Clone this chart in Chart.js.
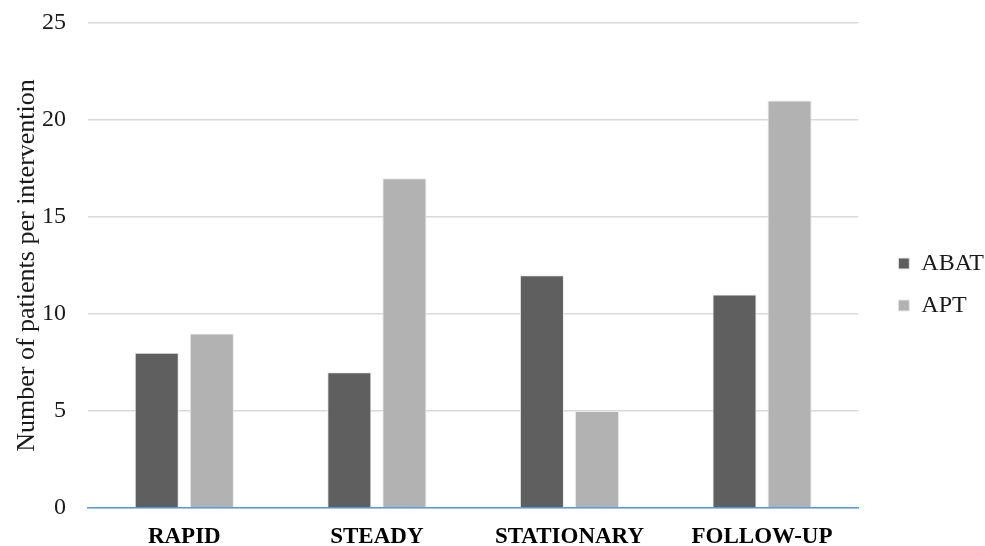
<!DOCTYPE html>
<html>
<head>
<meta charset="utf-8">
<script src="https://cdn.jsdelivr.net/npm/chart.js@4.4.0/dist/chart.umd.min.js"></script>
<style>
    html, body { margin: 0; padding: 0; background: #ffffff; }
    #wrap { width: 985px; height: 546px; position: relative; }
</style>
</head>
<body>
<div id="wrap"><canvas id="patients-chart"></canvas></div>
<script>
var phases = ["RAPID", "STEADY", "STATIONARY", "FOLLOW-UP"];
var abatCounts = [8, 7, 12, 11];
var aptCounts = [9, 17, 5, 21];
var yTicks = [0, 5, 10, 15, 20, 25];

var serif = "'Liberation Serif', 'Times New Roman', serif";

new Chart(document.getElementById("patients-chart"), {
    type: "bar",
    data: {
        labels: phases,
        datasets: [
            {
                label: "ABAT",
                data: abatCounts,
                backgroundColor: "#5f5f5f",
                borderColor: "#e8e8e8",
                borderWidth: 1,
                barPercentage: 0.8,
                categoryPercentage: 0.572
            },
            {
                label: "APT",
                data: aptCounts,
                backgroundColor: "#b2b2b2",
                borderColor: "#e8e8e8",
                borderWidth: 1,
                barPercentage: 0.8,
                categoryPercentage: 0.572
            }
        ]
    },
    options: {
        responsive: true,
        maintainAspectRatio: false,
        animation: false,
        layout: {
            padding: { top: 23, right: -9, left: 8, bottom: 0 }
        },
        plugins: {
            tooltip: { enabled: false },
            legend: {
                position: "right",
                align: "center",
                labels: {
                    boxWidth: 11,
                    boxHeight: 11,
                    padding: 18,
                    color: "#1a1a1a",
                    font: { family: serif, size: 24 }
                }
            }
        },
        scales: {
            x: {
                grid: { display: false, drawTicks: false },
                border: { color: "#5b9bd5", width: 1.5 },
                afterFit: function(axis) {
                    axis.height = 38;
                },
                ticks: {
                    color: "#000000",
                    padding: 15,
                    maxRotation: 0,
                    minRotation: 0,
                    font: { family: serif, size: 23, weight: "bold" }
                }
            },
            y: {
                min: 0,
                max: 25,
                afterBuildTicks: function(axis) {
                    axis.ticks = yTicks.map(function(v) { return { value: v }; });
                },
                afterFit: function(axis) {
                    axis.width = 80;
                    axis.paddingTop = 0;
                    axis.paddingBottom = 0;
                },
                grid: { color: "#d9d9d9", lineWidth: 1.5, drawTicks: false },
                border: { display: false },
                ticks: {
                    color: "#1a1a1a",
                    padding: 22,
                    font: { family: serif, size: 24 }
                },
                title: {
                    display: true,
                    text: "Number of patients per intervention",
                    color: "#1a1a1a",
                    padding: { top: 4, bottom: 0 },
                    font: { family: serif, size: 26 }
                }
            },
            // empty right-hand axis, keeps a gap between the bars and the legend
            gap: {
                position: "right",
                display: true,
                afterFit: function(axis) {
                    axis.width = 22;
                },
                grid: { display: false },
                border: { display: false },
                ticks: { display: false }
            }
        }
    }
});
</script>
</body>
</html>
